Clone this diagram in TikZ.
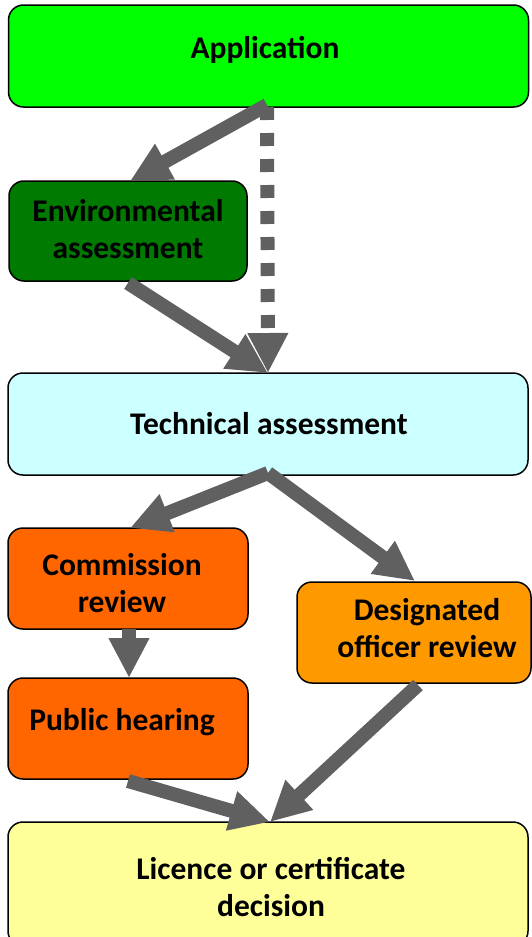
\documentclass[tikz,border=0pt]{standalone}
\usepackage{fontspec}
\setmainfont{Carlito}
\usetikzlibrary{arrows.meta}
\definecolor{appgreen}{HTML}{00FF00}
\definecolor{envgreen}{HTML}{007A00}
\definecolor{techblue}{HTML}{CCFFFF}
\definecolor{comorange}{HTML}{FF6600}
\definecolor{desorange}{HTML}{FF9900}
\definecolor{licyellow}{HTML}{FFFF99}
\definecolor{arrowgray}{HTML}{606060}
\tikzset{
  box/.style={draw=black, line width=1.5pt, rounded corners=15pt, inner sep=0pt},
  lbl/.style={font=\bfseries\fontsize{31.5}{37}\selectfont, align=center, inner sep=0pt},
  flow/.style={draw=arrowgray, line width=14pt, -{Triangle[length=40pt,width=38pt]}},
  dflow/.style={flow, dash pattern=on 13pt off 13pt}
}
\begin{document}
\begin{tikzpicture}[x=1pt,y=-1pt]
\useasboundingbox (0,0) rectangle (531,937);
% boxes
\node[box, fill=appgreen, minimum width=520pt, minimum height=102pt] (app) at (268.5,56) {};
\node[box, fill=envgreen, minimum width=238pt, minimum height=100pt] (env) at (128,231) {};
\node[box, fill=techblue, minimum width=520pt, minimum height=102pt] (tech) at (268,424) {};
\node[box, fill=comorange, minimum width=240pt, minimum height=101pt] (com) at (128,578.5) {};
\node[box, fill=desorange, minimum width=234pt, minimum height=101pt] (des) at (414,632.5) {};
\node[box, fill=comorange, minimum width=240pt, minimum height=101pt] (pub) at (128,728.5) {};
\node[box, fill=licyellow, minimum width=520pt, minimum height=124pt] (lic) at (268,884) {};
% labels
\node[lbl] (appT) at (265,50) {Application};
\node[lbl] (envT) at (128,229) {Environmental\\assessment};
\node[lbl] (techT) at (269,424) {Technical assessment};
\node[lbl] (comT) at (122,583) {Commission\\review};
\node[lbl] (desT) at (427,628) {Designated\\officer review};
\node[lbl] (pubT) at (122,722) {Public hearing};
\node[lbl] (licT) at (271,887) {Licence or certificate\\decision};
% connector points
\coordinate (a1) at (267,105);
\coordinate (a2) at (267,107);
\coordinate (envIn) at (130,181);
\coordinate (envOut) at (128,283);
\coordinate (techIn) at (268,373);
\coordinate (techOut) at (268,473);
\coordinate (comIn) at (130,528);
\coordinate (desIn) at (415,581);
\coordinate (comOut) at (129,629);
\coordinate (pubIn) at (129,678);
\coordinate (pubOut) at (128,781);
\coordinate (desOut) at (418,685);
\coordinate (licIn) at (270,822);
% arrows
\draw[flow] (a1) -- (envIn);
\draw[dflow] (a2) -- (techIn);
\draw[flow] (envOut) -- (techIn);
\draw[flow] (techOut) -- (comIn);
\draw[flow] (techOut) -- (desIn);
\draw[flow] (comOut) -- (pubIn);
\draw[flow] (pubOut) -- (licIn);
\draw[flow] (desOut) -- (licIn);
\end{tikzpicture}
\end{document}
